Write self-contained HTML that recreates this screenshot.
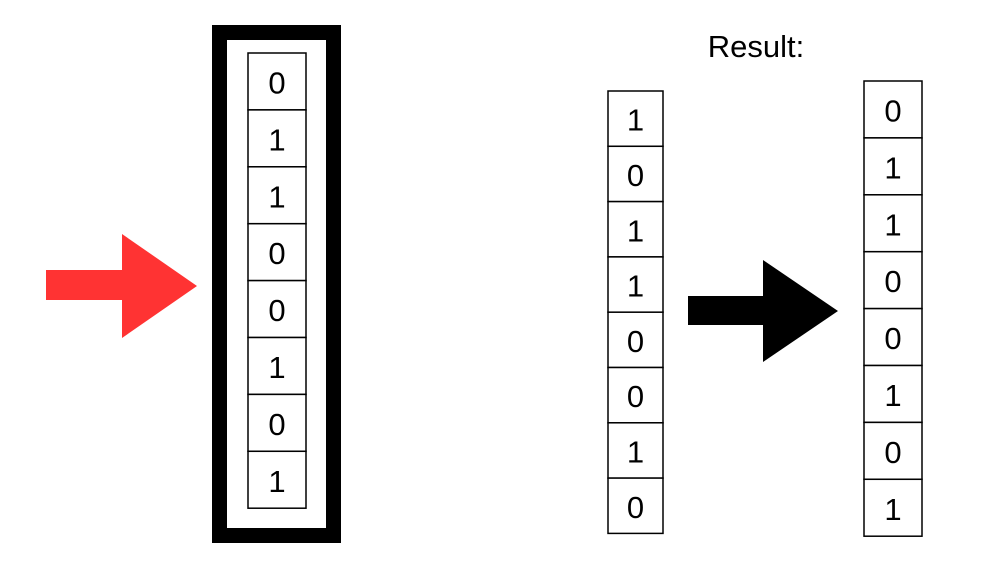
<!DOCTYPE html>
<html><head><meta charset="utf-8"><style>
html,body{margin:0;padding:0;background:#fff;width:987px;height:567px;overflow:hidden}
svg text{font-family:"Liberation Sans",sans-serif;fill:#000}
</style></head><body>
<svg width="987" height="567" viewBox="0 0 987 567">
<polygon points="46,270 122,270 122,234 197,286 122,338 122,300 46,300" fill="#ff3333"/>
<rect x="219.5" y="32.5" width="114" height="503" fill="none" stroke="#000" stroke-width="15"/>
<g id="reg"></g>
<text x="756" y="57" font-size="31" text-anchor="middle">Result:</text>
<g id="before"></g>
<polygon points="688,296 763,296 763,260 838,311 763,362 763,325 688,325" fill="#000"/>
<g id="after"></g>
</svg>
<script>
const registerBits=[0,1,1,0,0,1,0,1];
const beforeBits=[1,0,1,1,0,0,1,0];
const afterBits=[0,1,1,0,0,1,0,1];
function drawCol(id,bits,x,y,w,h,name){
  const g=document.getElementById(id);const ns='http://www.w3.org/2000/svg';
  bits.forEach((b,i)=>{
    const r=document.createElementNS(ns,'rect');
    
    
    r.setAttribute('x',x);r.setAttribute('y',y+i*h);r.setAttribute('width',w);r.setAttribute('height',h);
    r.setAttribute('fill','#fff');r.setAttribute('stroke','#000');r.setAttribute('stroke-width','1.5');
    g.appendChild(r);
    const t=document.createElementNS(ns,'text');
    
    
    t.setAttribute('x',x+w/2);t.setAttribute('y',y+i*h+h/2+12);t.setAttribute('font-size','31');t.setAttribute('text-anchor','middle');
    t.textContent=String(b);g.appendChild(t);
  });
}
drawCol('reg',registerBits,248,53,58,56.9,'register');
drawCol('before',beforeBits,608,91,55,55.3,'before');
drawCol('after',afterBits,864,81,58,56.9,'after');
</script>
</body></html>
